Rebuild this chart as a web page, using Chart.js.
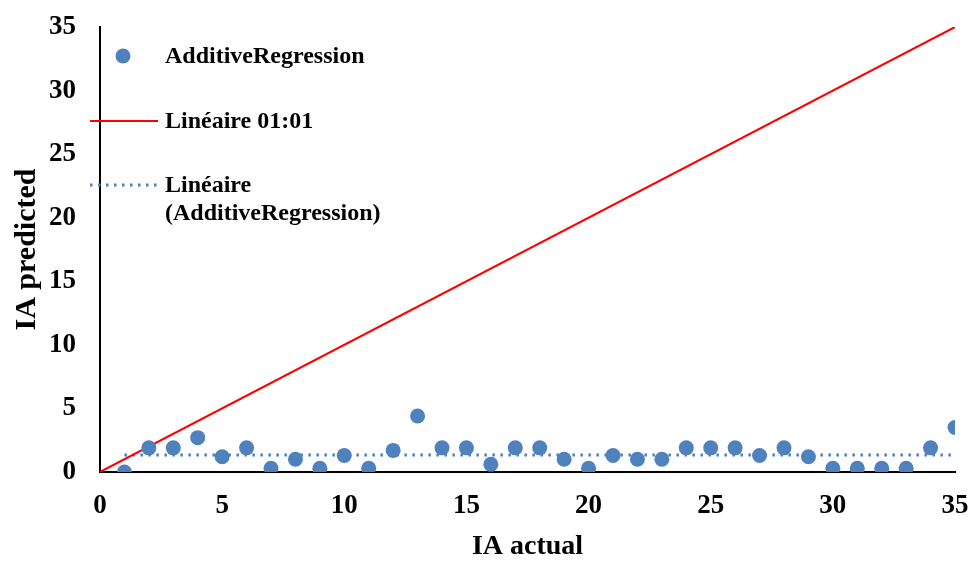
<!DOCTYPE html>
<html>
<head>
<meta charset="utf-8">
<script src="https://cdn.jsdelivr.net/npm/chart.js@4/dist/chart.umd.min.js"></script>
<style>
  html, body { margin: 0; padding: 0; background: #fff; }
  #wrap { width: 973px; height: 561px; }
</style>
</head>
<body>
<div id="wrap"><canvas id="Chart" width="973" height="561"></canvas></div>
<script>
// IA actual (x) vs IA predicted by AdditiveRegression (y)
const iaActual = [1, 2, 3, 4, 5, 6, 7, 8, 9, 10, 11, 12, 13, 14, 15, 16, 17, 18,
  19, 20, 21, 22, 23, 24, 25, 26, 27, 28, 29, 30, 31, 32, 33, 34, 35];
const iaPredicted = [0.0, 1.9, 1.9, 2.7, 1.2, 1.9, 0.3, 1.0, 0.3, 1.3, 0.3, 1.7, 4.4, 1.9, 1.9, 0.6, 1.9, 1.9,
  1.0, 0.3, 1.3, 1.0, 1.0, 1.9, 1.9, 1.9, 1.3, 1.9, 1.2, 0.3, 0.3, 0.3, 0.3, 1.9, 3.5];
// 1:1 reference line and the linear trend of the predictions
const identityLine = [{x: 0, y: 0}, {x: 35, y: 35}];
const trendLine = [{x: 1, y: 1.33}, {x: 35, y: 1.33}];
const tickStep = 5;
const axisMax = 35;

const blue = '#4F81BD';
const red = '#FF0000';
const serif = '"Liberation Serif", "Times New Roman", serif';

// draws the legend box in the upper-left of the plot
const legendPlugin = {
  id: 'insideLegend',
  afterDraw(chart) {
    const ctx = chart.ctx;
    ctx.save();
    ctx.font = 'bold 24px ' + serif;
    ctx.fillStyle = '#000';
    ctx.textBaseline = 'middle';
    ctx.textAlign = 'left';

    ctx.fillStyle = blue;
    ctx.beginPath();
    ctx.arc(123, 56, 7.5, 0, Math.PI * 2);
    ctx.fill();
    ctx.fillStyle = '#000';
    ctx.fillText('AdditiveRegression', 165, 57);

    ctx.strokeStyle = red;
    ctx.lineWidth = 2;
    ctx.beginPath();
    ctx.moveTo(90, 121); ctx.lineTo(158, 121);
    ctx.stroke();
    ctx.fillText('Linéaire 01:01', 165, 122);

    ctx.strokeStyle = blue;
    ctx.lineWidth = 3;
    ctx.setLineDash([2.5, 5.5]);
    ctx.beginPath();
    ctx.moveTo(90, 185); ctx.lineTo(158, 185);
    ctx.stroke();
    ctx.setLineDash([]);
    ctx.fillText('Linéaire', 165, 186);
    ctx.fillText('(AdditiveRegression)', 165, 214);
    ctx.restore();
  }
};

const ctx = document.getElementById('Chart');
new Chart(ctx, {
  type: 'scatter',
  data: {
    datasets: [
      {
        label: 'AdditiveRegression',
        data: iaActual.map((x, i) => ({x: x, y: iaPredicted[i]})),
        backgroundColor: blue,
        borderColor: blue,
        pointRadius: 7.5,
        pointBorderWidth: 0,
        order: 1
      },
      {
        label: 'Linéaire 01:01',
        type: 'line',
        data: identityLine,
        borderColor: red,
        borderWidth: 2,
        pointRadius: 0,
        fill: false,
        order: 2
      },
      {
        label: 'Linéaire (AdditiveRegression)',
        type: 'line',
        data: trendLine,
        borderColor: blue,
        borderWidth: 3,
        borderDash: [2.5, 5.5],
        pointRadius: 0,
        fill: false,
        order: 3
      }
    ]
  },
  options: {
    responsive: false,
    animation: false,
    events: [],
    layout: { padding: { top: 27, right: 18, left: 0, bottom: 0 } },
    plugins: {
      legend: { display: false },
      tooltip: { enabled: false }
    },
    scales: {
      x: {
        type: 'linear',
        min: 0,
        max: axisMax,
        ticks: {
          stepSize: tickStep,
          color: '#000',
          padding: 18,
          font: { family: serif, size: 27, weight: 'bold' }
        },
        grid: { display: false, drawTicks: false },
        border: { color: '#000', width: 2 },
        title: {
          display: true,
          text: 'IA actual',
          color: '#000',
          padding: 0,
          font: { family: serif, size: 28, weight: 'bold', lineHeight: 1 }
        },
        afterFit(scale) {
          scale.height = 89;
          scale.paddingLeft = 0;
          scale.paddingRight = 0;
        }
      },
      y: {
        type: 'linear',
        min: 0,
        max: axisMax,
        ticks: {
          stepSize: tickStep,
          color: '#000',
          padding: 24,
          font: { family: serif, size: 27, weight: 'bold' }
        },
        grid: { display: false, drawTicks: false },
        border: { color: '#000', width: 2 },
        title: {
          display: true,
          text: 'IA predicted',
          color: '#000',
          padding: { top: 12, bottom: 0 },
          font: { family: serif, size: 30, weight: 'bold', lineHeight: 1 }
        },
        afterFit(scale) {
          scale.width = 100;
          scale.paddingTop = 0;
          scale.paddingBottom = 0;
        }
      }
    }
  },
  plugins: [legendPlugin]
});
</script>
</body>
</html>
